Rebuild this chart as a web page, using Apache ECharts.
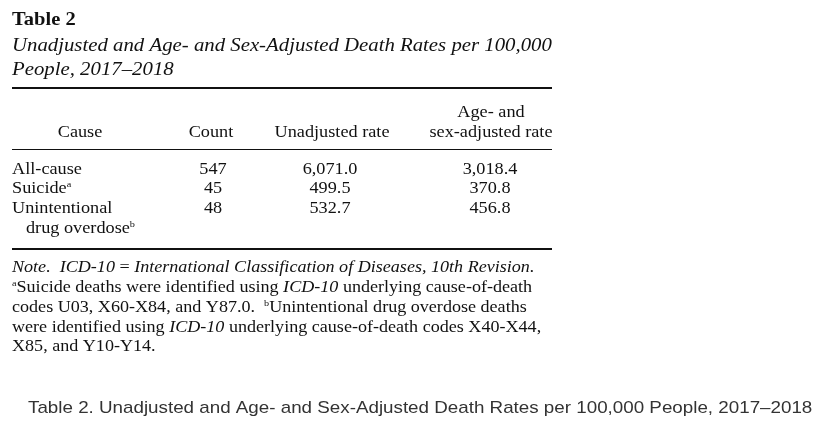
<!DOCTYPE html>
<html lang="en">
<head>
    <meta charset="UTF-8">
    <title>Table 2</title>
    <script src="https://cdn.jsdelivr.net/npm/echarts@6/dist/echarts.min.js"></script>
    <style>
        html, body { margin: 0; padding: 0; background: #fff; }
        #chart { width: 829px; height: 429px; }
    </style>
</head>
<body>
<div id="chart"></div>
<script>
    // table data
    var columns = ['Cause', 'Count', 'Unadjusted rate', 'sex-adjusted rate'];
    var causes = ['All-cause', 'Suicide{sup|a}', 'Unintentional', '  drug overdose{sup|b}'];
    var counts = ['547', '45', '48', ''];
    var unadjusted = ['6,071.0', '499.5', '532.7', ''];
    var adjusted = ['3,018.4', '370.8', '456.8', ''];
    var noteLines = [
        '{i|Note.}  {i|ICD-10} = {i|International Classification of Diseases, 10th Revision.}',
        '{sup|a}Suicide deaths were identified using {i|ICD-10} underlying cause-of-death',
        'codes U03, X60-X84, and Y87.0.  {sup|b}Unintentional drug overdose deaths',
        'were identified using {i|ICD-10} underlying cause-of-death codes X40-X44,',
        'X85, and Y10-Y14.'
    ];

    var chart = echarts.init(document.getElementById('chart'));
    var serif = '"Liberation Serif", "DejaVu Serif", serif';
    var rich = {
        i: { fontStyle: 'italic', fontFamily: serif, fontSize: 16, fill: '#111' },
        sup: { fontSize: 9, fontFamily: serif, verticalAlign: 'top', padding: [0, 0, 8, 0], fill: '#111' }
    };
    function txt(x, y, s, opt) {
        opt = opt || {};
        return {
            type: 'text', x: x, y: y, scaleX: opt.sx || 1.14,
            style: {
                text: s, fill: opt.fill || '#111',
                font: (opt.style || '') + ' ' + (opt.weight || 'normal') + ' ' + (opt.size || 16) + 'px ' + (opt.family || serif),
                textAlign: opt.align || 'left', textVerticalAlign: 'middle', rich: rich
            }
        };
    }
    function hline(y, w) {
        return { type: 'rect', shape: { x: 12, y: y, width: 540, height: w }, style: { fill: '#111' } };
    }

    var els = [];
    els.push(txt(12, 20, 'Table 2', { weight: 'bold', size: 18 }));
    els.push(txt(12, 46, 'Unadjusted and Age- and Sex-Adjusted Death Rates per 100,000', { style: 'italic', size: 18, sx: 1.155 }));
    els.push(txt(12, 70, 'People, 2017–2018', { style: 'italic', size: 18, sx: 1.155 }));
    els.push(hline(87, 2));
    var colX = [80, 211, 332, 491];
    els.push(txt(colX[3], 113, 'Age- and', {align: 'center'}));
    columns.forEach(function (c, k) { els.push(txt(colX[k], 133, c, {align: 'center'})); });
    els.push(hline(149, 1));
    var rowY = [170, 189, 209, 229];
    causes.forEach(function (c, r) {
        els.push(txt(c.indexOf('  ') === 0 ? 26 : 12, rowY[r], c.replace(/^  /, ''), {}));
        els.push(txt(colX[1] + 2, rowY[r], counts[r], {align: 'center'}));
        els.push(txt(colX[2] - 2, rowY[r], unadjusted[r], {align: 'center'}));
        els.push(txt(colX[3] - 1, rowY[r], adjusted[r], {align: 'center'}));
    });
    els.push(hline(248, 2));
    noteLines.forEach(function (l, r) { els.push(txt(12, 268 + r * 19.8, l, {sx: 1.13})); });
    els.push(txt(28, 408, 'Table 2. Unadjusted and Age- and Sex-Adjusted Death Rates per 100,000 People, 2017–2018',
        { family: '"Liberation Sans", Arial, sans-serif', size: 17, fill: '#333', sx: 1.105 }));

    chart.setOption({ graphic: { elements: els } });
</script>
</body>
</html>
